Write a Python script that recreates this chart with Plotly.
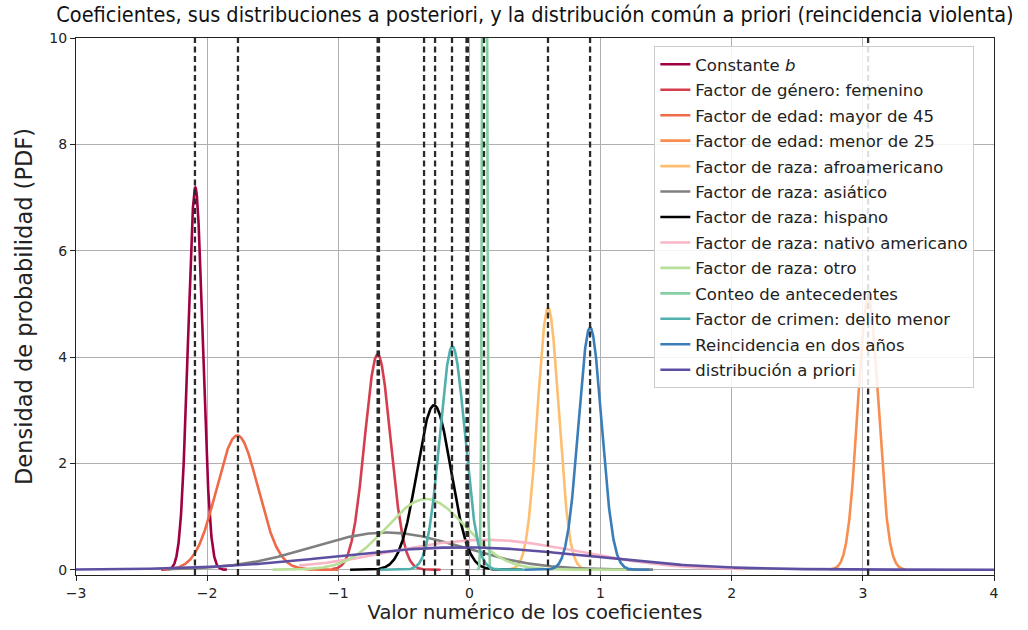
import numpy as np
import plotly.graph_objects as go

# Series: name, mean, standard deviation, drawn x-range, colour
names = [
    "Constante <i>b</i>",
    "Factor de género: femenino",
    "Factor de edad: mayor de 45",
    "Factor de edad: menor de 25",
    "Factor de raza: afroamericano",
    "Factor de raza: asiático",
    "Factor de raza: hispano",
    "Factor de raza: nativo americano",
    "Factor de raza: otro",
    "Conteo de antecedentes",
    "Factor de crimen: delito menor",
    "Reincidencia en dos años",
    "distribución a priori",
]
means = [-2.09, -0.70, -1.77, 3.04, 0.60, -0.63, -0.27, 0.12, -0.33, 0.115, -0.13, 0.92, -0.05]
sds = [0.0555, 0.0985, 0.158, 0.078, 0.081, 0.57, 0.129, 0.71, 0.30, 0.0115, 0.095, 0.0875, 0.95]
x_lo = [-2.35, -1.05, -2.35, 2.75, 0.30, -2.3, -0.91, -1.3, -1.5, 0.06, -0.68, 0.42, -3.0]
x_hi = [-1.85, -0.22, -1.00, 3.32, 0.92, 1.4, 0.40, 2.1, 1.20, 0.17, 0.42, 1.37, 4.0]
colors = ["#9e0142", "#d53e4f", "#ee6a48", "#f88d50", "#fdbf6f", "#808080", "#000000",
          "#f8b6c6", "#b8df98", "#86cfa3", "#4fb0ae", "#3a7db8", "#5e4fa2"]

# Point estimates of the coefficients (dashed vertical lines)
estimates = [-2.093, -1.765, -0.700, -0.690, -0.346, -0.262, -0.133, -0.022, -0.012, 0.111, 0.599, 0.920, 3.040]

x_ticks = [-3, -2, -1, 0, 1, 2, 3, 4]
y_ticks = [0, 2, 4, 6, 8, 10]

fig = go.Figure()
for i, name in enumerate(names):
    xs = np.linspace(x_lo[i], x_hi[i], 600)
    ys = np.exp(-0.5 * ((xs - means[i]) / sds[i]) ** 2) / (sds[i] * np.sqrt(2 * np.pi))
    fig.add_trace(go.Scatter(
        x=xs, y=ys, mode="lines", name=name,
        line=dict(color=colors[i], width=2.6),
        legendgroup=f"g{i}",
    ))

for v in estimates:
    fig.add_shape(type="line", xref="x", yref="paper", x0=v, x1=v, y0=0, y1=1,
                  line=dict(color="#2a2a2a", width=2.3, dash="6px,3.5px"), layer="above")

font_main = "DejaVu Sans, Liberation Sans, sans-serif"
fig.update_layout(
    width=1028, height=630,
    margin=dict(l=76, r=34, t=38, b=55),
    paper_bgcolor="white", plot_bgcolor="white",
    font=dict(family=font_main, size=14, color="#222222"),
    title=dict(
        text="Coeficientes, sus distribuciones a posteriori, y la distribución común a priori (reincidencia violenta)",
        x=0.5, xref="paper", xanchor="center", y=0.977, yanchor="middle",
        font=dict(family="DejaVu Sans Condensed, DejaVu Sans, sans-serif", size=21.5, color="#111111"),
    ),
    xaxis=dict(
        range=[-3, 4], tickvals=x_ticks, ticktext=[("−" + str(abs(t))) if t < 0 else str(t) for t in x_ticks],
        showgrid=True, gridcolor="#b0b0b0", gridwidth=1,
        showline=True, linecolor="#222222", linewidth=1.2, mirror=True,
        ticks="outside", ticklen=5, tickcolor="#222222", zeroline=False,
        title=dict(text="Valor numérico de los coeficientes", font=dict(size=19.5), standoff=4),
    ),
    yaxis=dict(
        range=[-0.1, 10], tickvals=y_ticks,
        showgrid=True, gridcolor="#b0b0b0", gridwidth=1,
        showline=True, linecolor="#222222", linewidth=1.2, mirror=True,
        ticks="outside", ticklen=5, tickcolor="#222222", zeroline=False,
        title=dict(text="Densidad de probabilidad (PDF)", font=dict(size=22.5), standoff=10),
    ),
    legend=dict(
        x=0.630, y=0.985, xanchor="left", yanchor="top",
        bgcolor="rgba(255,255,255,0.85)", bordercolor="#cccccc", borderwidth=1,
        font=dict(size=16.5, color="#222222"), tracegroupgap=1, traceorder="grouped",
        itemwidth=30,
    ),
)

fig.write_html("out.html")
